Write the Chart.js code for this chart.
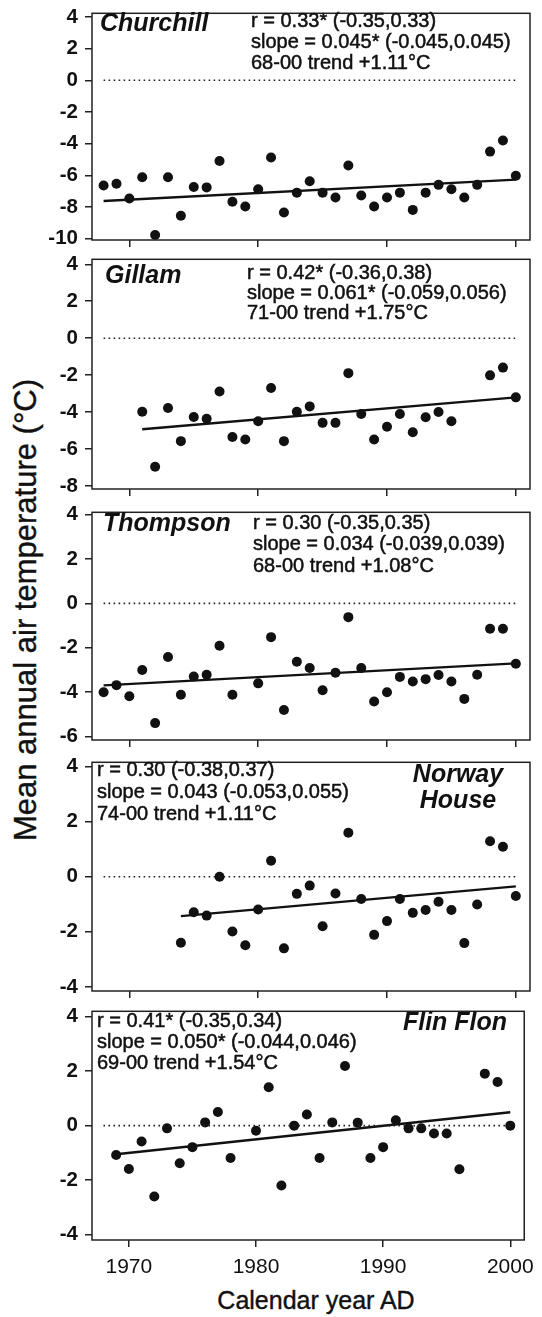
<!DOCTYPE html>
<html>
<head>
<meta charset="utf-8">
<script src="https://cdn.jsdelivr.net/npm/chart.js@4"></script>
<style>
  body { margin: 0; background: #fff; width: 542px; height: 1317px; position: relative; overflow: hidden;
         font-family: "Liberation Sans", Arial, sans-serif; color: #111; }
  canvas { position: absolute; left: 0; }
  #ytitle { position: absolute; left: 26px; top: 610px; transform: translate(-50%, -50%) rotate(-90deg);
            font-size: 31px; white-space: nowrap; -webkit-text-stroke: 0.4px #111; }
  #xtitle { position: absolute; left: 316px; top: 1300px; transform: translate(-50%, -50%);
            font-size: 25px; white-space: nowrap; -webkit-text-stroke: 0.4px #111; }
</style>
</head>
<body>
<div id="ytitle">Mean annual air temperature (°C)</div>
<div id="xtitle">Calendar year AD</div>
<script>
// Years shown on every panel
const years = [1968, 1969, 1970, 1971, 1972, 1973, 1974, 1975, 1976, 1977, 1978,
               1979, 1980, 1981, 1982, 1983, 1984, 1985, 1986, 1987, 1988, 1989,
               1990, 1991, 1992, 1993, 1994, 1995, 1996, 1997, 1998, 1999, 2000];

// Mean annual air temperature (°C) per station, null = no data
const churchillTemp = [-6.64, -6.53, -7.46, -6.12, -9.76, -6.12, -8.55, -6.74, -6.76, -5.09, -7.66,
                       -7.97, -6.88, -4.87, -8.34, -7.09, -6.37, -7.09, -7.40, -5.38, -7.27, -7.97,
                       -7.40, -7.09, -8.18, -7.09, -6.60, -6.88, -7.40, -6.60, -4.50, -3.80, -6.02];
const gillamTemp = [null, null, null, -3.98, -6.96, -3.78, -5.57, -4.26, -4.36, -2.88, -5.35,
                    -5.48, -4.49, -2.69, -5.57, -3.98, -3.69, -4.58, -4.58, -1.89, -4.10, -5.48,
                    -4.79, -4.10, -5.09, -4.28, -3.99, -4.49, null, null, -2.01, -1.59, -3.20];
const thompsonTemp = [-4.00, -3.68, -4.18, -3.00, -5.39, -2.41, -4.11, -3.29, -3.21, -1.91, -4.11,
                      null, -3.60, -1.52, -4.80, -2.63, -2.91, -3.91, -3.12, -0.62, -2.91, -4.42,
                      -4.00, -3.31, -3.52, -3.41, -3.22, -3.52, -4.30, -3.21, -1.14, -1.14, -2.72];
const norwayTemp = [null, null, null, null, null, null, -2.40, -1.29, -1.41, 0.00, -1.99,
                    -2.49, -1.19, 0.58, -2.60, -0.62, -0.32, -1.80, -0.61, 1.60, -0.81, -2.11,
                    -1.61, -0.81, -1.31, -1.21, -0.91, -1.21, -2.41, -1.01, 1.29, 1.09, -0.70];
const flinTemp = [null, -1.08, -1.59, -0.58, -2.60, -0.10, -1.38, -0.79, 0.12, 0.50, -1.19,
                  null, -0.19, 1.41, -2.20, 0.00, 0.41, -1.19, 0.12, 2.19, 0.11, -1.19,
                  -0.79, 0.20, -0.10, -0.10, -0.29, -0.29, -1.60, null, 1.91, 1.60, 0.00];

// Regression lines (start / end)
const churchillTrendYears = [1968, 2000];
const churchillTrend = [-7.62, -6.27];
const gillamTrendYears = [1971, 2000];
const gillamTrend = [-4.93, -3.20];
const thompsonTrendYears = [1968, 2000];
const thompsonTrend = [-3.69, -2.70];
const norwayTrendYears = [1974, 2000];
const norwayTrend = [-1.43, -0.35];
const flinTrendYears = [1969, 2000];
const flinTrend = [-1.05, 0.49];

// Dotted zero reference
const zeroLineYears = [1968, 2000];
const zeroLineValues = [0, 0];

// Tick labels
const xTickYears = [1970, 1980, 1990, 2000];
const churchillTicks = [-10, -8, -6, -4, -2, 0, 2, 4];
const gillamTicks = [-8, -6, -4, -2, 0, 2, 4];
const thompsonTicks = [-6, -4, -2, 0, 2, 4];
const norwayTicks = [-4, -2, 0, 2, 4];
const flinTicks = [-4, -2, 0, 2, 4];

// Statistics text
const churchillStats = ['r = 0.33* (-0.35,0.33)', 'slope = 0.045* (-0.045,0.045)', '68-00 trend +1.11°C'];
const gillamStats = ['r = 0.42* (-0.36,0.38)', 'slope = 0.061* (-0.059,0.056)', '71-00 trend +1.75°C'];
const thompsonStats = ['r = 0.30 (-0.35,0.35)', 'slope = 0.034 (-0.039,0.039)', '68-00 trend +1.08°C'];
const norwayStats = ['r = 0.30 (-0.38,0.37)', 'slope = 0.043 (-0.053,0.055)', '74-00 trend +1.11°C'];
const flinStats = ['r = 0.41* (-0.35,0.34)', 'slope = 0.050* (-0.044,0.046)', '69-00 trend +1.54°C'];

const stations = [
    { name: ['Churchill'], temps: churchillTemp, trendYears: churchillTrendYears, trend: churchillTrend, yTicks: churchillTicks, stats: churchillStats },
    { name: ['Gillam'], temps: gillamTemp, trendYears: gillamTrendYears, trend: gillamTrend, yTicks: gillamTicks, stats: gillamStats },
    { name: ['Thompson'], temps: thompsonTemp, trendYears: thompsonTrendYears, trend: thompsonTrend, yTicks: thompsonTicks, stats: thompsonStats },
    { name: ['Norway', 'House'], temps: norwayTemp, trendYears: norwayTrendYears, trend: norwayTrend, yTicks: norwayTicks, stats: norwayStats },
    { name: ['Flin Flon'], temps: flinTemp, trendYears: flinTrendYears, trend: flinTrend, yTicks: flinTicks, stats: flinStats }
];

// Page positions of each panel box and its texts
const panelLayout = [
    { top: 9, bottom: 240, yMin: -10.08, yMax: 4.23, nameX: 100, nameY: 24, nameAlign: 'left', statX: 251, statY: 21, statGap: 21.3 },
    { top: 255, bottom: 489, yMin: -8.16, yMax: 4.27, nameX: 105, nameY: 276, nameAlign: 'left', statX: 247, statY: 273, statGap: 20.2 },
    { top: 508, bottom: 740, yMin: -6.15, yMax: 4.1, nameX: 103, nameY: 524, nameAlign: 'left', statX: 253, statY: 523, statGap: 21.8 },
    { top: 758, bottom: 991, yMin: -4.15, yMax: 4.16, nameX: 458, nameY: 775, nameAlign: 'center', statX: 97, statY: 770, statGap: 22 },
    { top: 1007, bottom: 1240, yMin: -4.2, yMax: 4.2, nameX: 455, nameY: 1023, nameAlign: 'center', statX: 97, statY: 1021, statGap: 21.2 }
];

const PAD_TOP = 15;
const PAD_BOTTOM = 14;
const INK = '#111';
const FONT = '"Liberation Sans", Arial, sans-serif';

function makeDecor(station, lay, offset) {
    return {
        id: 'decor',
        afterDatasetsDraw(chart) {
            const a = chart.chartArea;
            const ctx = chart.ctx;
            ctx.save();
            ctx.strokeStyle = '#222';
            ctx.lineWidth = 1.5;
            ctx.strokeRect(a.left, a.top, a.right - a.left, a.bottom - a.top);

            ctx.fillStyle = INK;
            ctx.strokeStyle = INK;
            ctx.textBaseline = 'middle';
            ctx.font = 'italic bold 25px ' + FONT;
            ctx.textAlign = lay.nameAlign;
            station.name.forEach((t, i) => ctx.fillText(t, lay.nameX, lay.nameY + i * 26 - offset));

            // slightly heavier stroke to match the scanned print
            ctx.font = '20px ' + FONT;
            ctx.textAlign = 'left';
            ctx.lineWidth = 0.5;
            station.stats.forEach((t, i) => {
                const y = lay.statY + i * lay.statGap - offset;
                ctx.fillText(t, lay.statX, y);
                ctx.strokeText(t, lay.statX, y);
            });
            ctx.restore();
        }
    };
}

stations.forEach((st, idx) => {
    const lay = panelLayout[idx];
    const isLast = idx === stations.length - 1;
    const xHeight = isLast ? 50 : 8;
    const canvasTop = lay.top - PAD_TOP;
    const height = PAD_TOP + (lay.bottom - lay.top) + xHeight + PAD_BOTTOM;

    const canvas = document.createElement('canvas');
    canvas.width = 542;
    canvas.height = height;
    canvas.style.top = canvasTop + 'px';
    document.body.appendChild(canvas);

    const points = [];
    years.forEach((y, i) => {
        if (st.temps[i] !== null) points.push({ x: y, y: st.temps[i] });
    });

    const chartData = {
        datasets: [{
            type: 'line',
            data: zeroLineYears.map((y, i) => ({ x: y, y: zeroLineValues[i] })),
            borderColor: '#222',
            borderWidth: 1.6,
            borderDash: [1.6, 3.4],
            pointRadius: 0
        }, {
            type: 'line',
            data: st.trendYears.map((y, i) => ({ x: y, y: st.trend[i] })),
            borderColor: INK,
            borderWidth: 2.4,
            pointRadius: 0
        }, {
            type: 'scatter',
            data: points,
            backgroundColor: INK,
            borderWidth: 0,
            pointRadius: 5
        }]
    };

    const tickGrid = { drawOnChartArea: false, drawTicks: true, tickLength: 7, color: '#222', lineWidth: 1.5 };

    new Chart(canvas.getContext('2d'), {
        type: 'scatter',
        data: chartData,
        options: {
            responsive: false,
            animation: false,
            devicePixelRatio: 1,
            layout: { padding: { top: PAD_TOP, right: 12, bottom: PAD_BOTTOM, left: 0 } },
            plugins: { legend: { display: false }, tooltip: { enabled: false } },
            scales: {
                x: {
                    type: 'linear',
                    min: 1967.1,
                    max: 2001.1,
                    afterBuildTicks: s => { s.ticks = xTickYears.map(v => ({ value: v })); },
                    afterFit: s => { s.height = xHeight; },
                    grid: tickGrid,
                    border: { display: false },
                    ticks: {
                        display: isLast,
                        padding: 8,
                        color: INK,
                        font: { family: FONT, size: 21 },
                        callback: v => String(v)
                    }
                },
                y: {
                    min: lay.yMin,
                    max: lay.yMax,
                    afterBuildTicks: s => { s.ticks = st.yTicks.map(v => ({ value: v })); },
                    afterFit: s => { s.width = 92; },
                    grid: tickGrid,
                    border: { display: false },
                    ticks: {
                        padding: 7,
                        color: INK,
                        font: { family: FONT, size: 20.5, weight: 'bold' },
                        callback: v => String(v)
                    }
                }
            }
        },
        plugins: [makeDecor(st, lay, canvasTop)]
    });
});
</script>
</body>
</html>
